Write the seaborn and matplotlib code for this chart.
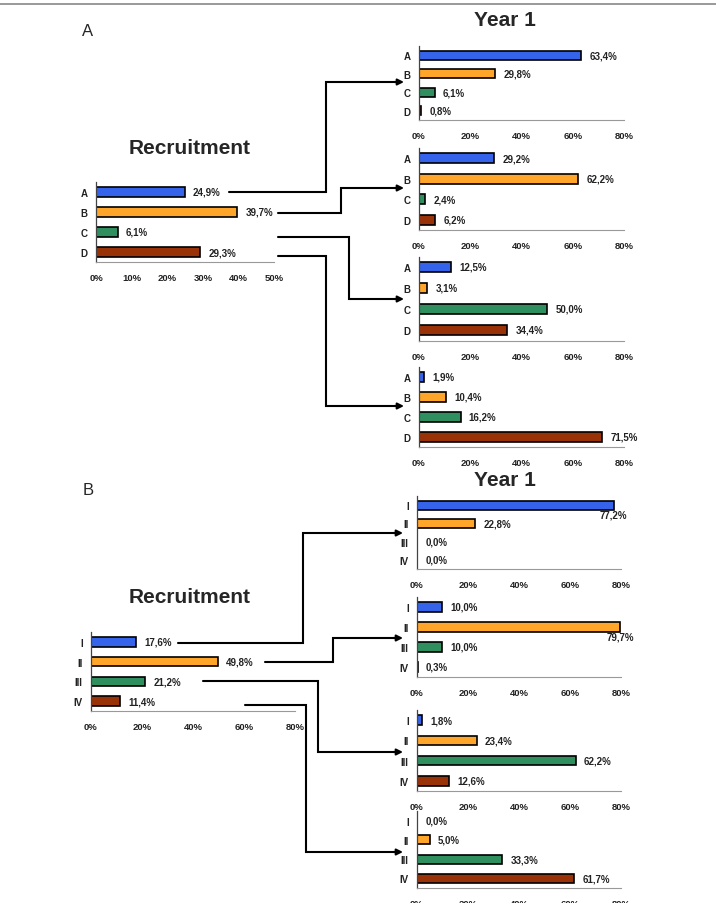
import matplotlib
matplotlib.use("Agg")
import matplotlib.pyplot as plt
import seaborn as sns
import numpy as np

sns.set_theme(style="white")
plt.rcParams['font.family'] = ['Liberation Sans', 'DejaVu Sans']

# ---------------- data ----------------
cats_a = ["A", "B", "C", "D"]
cats_b = ["I", "II", "III", "IV"]
colors = ["#3563e9", "#ffa52a", "#2f8f5f", "#9a3208"]

recruit_a = [24.9, 39.7, 6.1, 29.3]
year1_a = [
    [63.4, 29.8, 6.1, 0.8],
    [29.2, 62.2, 2.4, 6.2],
    [12.5, 3.1, 50.0, 34.4],
    [1.9, 10.4, 16.2, 71.5],
]
recruit_b = [17.6, 49.8, 21.2, 11.4]
year1_b = [
    [77.2, 22.8, 0.0, 0.0],
    [10.0, 79.7, 10.0, 0.3],
    [1.8, 23.4, 62.2, 12.6],
    [0.0, 5.0, 33.3, 61.7],
]
xticks_recruit_a = [0, 10, 20, 30, 40, 50]
xticks_80 = [0, 20, 40, 60, 80]

W, H = 716, 904
fig = plt.figure(figsize=(W / 100, H / 100), dpi=100)


def add_ax(left, right, top, bottom):
    return fig.add_axes([left / W, 1 - bottom / H, (right - left) / W, (bottom - top) / H])


def fmt(v):
    return f"{v:.1f}".replace(".", ",") + "%"


def draw_panel(ax, cats, vals, xticks):
    sns.barplot(x=vals, y=cats, hue=cats, palette=colors, orient="h", ax=ax,
                legend=False, edgecolor="black", linewidth=1.2, width=0.48,
                saturation=1)
    xmax = xticks[-1]
    ax.set_xlim(0, xmax)
    ax.set_ylim(3.5, -0.5)
    ax.set_xticks(xticks)
    ax.set_xticklabels([f"{t}%" for t in xticks], fontsize=6.8, fontweight="bold", color="#222222")
    ax.set_yticks(range(len(cats)))
    ax.set_yticklabels(cats, fontsize=7, fontweight="bold", color="#222222")
    ax.set_yticks(np.arange(-0.5, len(cats), 1.0), minor=True)
    ax.tick_params(axis="y", which="major", length=0, pad=6)
    ax.tick_params(axis="y", which="minor", length=3, width=0.8, color="#555555", direction="out")
    ax.tick_params(axis="x", which="major", length=3, width=0.8, color="#888888", direction="out", pad=5)
    ax.set_xlabel("")
    ax.set_ylabel("")
    for s in ["top", "right"]:
        ax.spines[s].set_visible(False)
    ax.spines["left"].set_color("#444444")
    ax.spines["left"].set_linewidth(0.9)
    ax.spines["bottom"].set_color("#999999")
    ax.spines["bottom"].set_linewidth(0.8)
    ax.patch.set_alpha(0)
    for i, v in enumerate(vals):
        if v / xmax > 0.9:
            ax.annotate(fmt(v), xy=(v, i), xytext=(0, -7), textcoords="offset points",
                        ha="center", va="center", fontsize=7, fontweight="bold", color="#222222")
        else:
            ax.annotate(fmt(v), xy=(v, i), xytext=(6, 0), textcoords="offset points",
                        ha="left", va="center", fontsize=7, fontweight="bold", color="#222222")


# ---------------- panel A ----------------
ax = add_ax(96, 274, 183, 263)
draw_panel(ax, cats_a, recruit_a, xticks_recruit_a)

a_boxes = [(46.7, 121.3), (148.7, 231.3), (257.5, 341.5), (368, 448)]
for (t, b), vals in zip(a_boxes, year1_a):
    ax = add_ax(419, 624, t, b)
    draw_panel(ax, cats_a, vals, xticks_80)

# ---------------- panel B ----------------
ax = add_ax(91, 295, 633, 712)
draw_panel(ax, cats_b, recruit_b, xticks_80)

b_boxes = [(497, 570), (598, 678), (711, 792), (812, 889)]
for (t, b), vals in zip(b_boxes, year1_b):
    ax = add_ax(417, 621, t, b)
    draw_panel(ax, cats_b, vals, xticks_80)

# ---------------- overlay: texts & connectors ----------------
ov = fig.add_axes([0, 0, 1, 1], zorder=-1)
ov.set_xlim(0, W)
ov.set_ylim(H, 0)
ov.axis("off")

ov.plot([0, W], [5, 5], color="#888888", lw=1.2)

ov.text(88, 32, "A", fontsize=12, ha="center", va="center")
ov.text(88, 491, "B", fontsize=12, ha="center", va="center")
for y in (20, 481):
    ov.text(505, y, "Year 1", fontsize=15, fontweight="bold", ha="center", va="center")
for y in (148, 598):
    ov.text(190, y, "Recruitment", fontsize=15, fontweight="bold", ha="center", va="center")

connectors = [
    [(229, 193), (326, 193), (326, 83), (404, 83)],
    [(278, 214), (341, 214), (341, 189), (404, 189)],
    [(278, 238), (349, 238), (349, 300), (404, 300)],
    [(278, 257), (326, 257), (326, 407), (404, 407)],
    [(178, 644), (303, 644), (303, 534), (403, 534)],
    [(265, 663), (333, 663), (333, 639), (403, 639)],
    [(203, 682), (318, 682), (318, 753), (403, 753)],
    [(245, 706), (306, 706), (306, 853), (403, 853)],
]
for pts in connectors:
    xs = [p[0] for p in pts[:-1]] + [pts[-1][0] - 6]
    ys = [p[1] for p in pts]
    ov.plot(xs, ys, color="black", lw=1.5, solid_joinstyle="miter")
    ov.annotate("", xy=pts[-1], xytext=(pts[-1][0] - 10, pts[-1][1]),
                arrowprops=dict(arrowstyle="-|>", color="black", lw=1.5,
                                mutation_scale=9, shrinkA=0, shrinkB=0))

fig.savefig("out.png", dpi=100)
